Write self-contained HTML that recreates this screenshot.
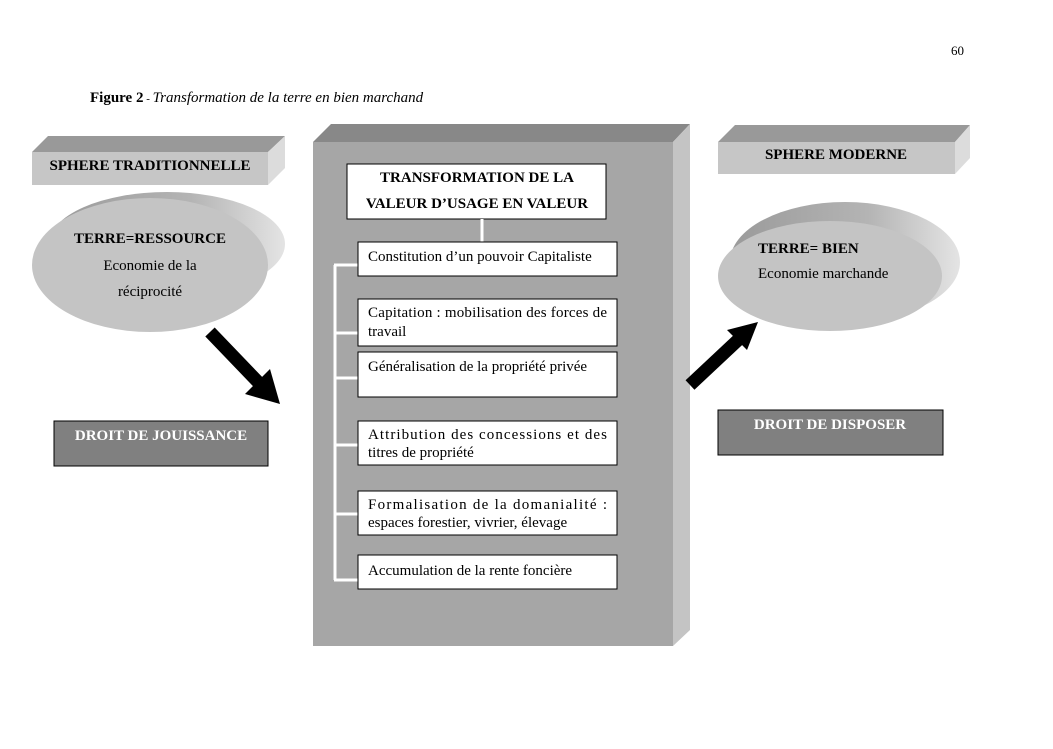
<!DOCTYPE html>
<html><head><meta charset="utf-8"><style>
body{margin:0;background:#fff}
svg text{font-family:"Liberation Serif",serif;fill:#000}
</style></head><body>
<svg width="1053" height="744" viewBox="0 0 1053 744" xmlns="http://www.w3.org/2000/svg">
<defs>
<linearGradient id="g1" x1="0" x2="1" y1="0" y2="0"><stop offset="0" stop-color="#9a9a9a"/><stop offset="0.6" stop-color="#b4b4b4"/><stop offset="1" stop-color="#e4e4e4"/></linearGradient>
</defs>
<text x="951" y="55" font-size="13">60</text>
<text x="90" y="102" font-size="15"><tspan font-weight="bold">Figure 2</tspan><tspan font-size="11"> - </tspan><tspan font-style="italic">Transformation de la terre en bien marchand</tspan></text>

<!-- left bar -->
<polygon points="32,152 48,136 285,136 268,152" fill="#999"/>
<polygon points="268,152 285,136 285,168 268,185" fill="#dcdcdc"/>
<rect x="32" y="152" width="236" height="33" fill="#c6c6c6"/>
<text x="150" y="170" font-size="15" font-weight="bold" text-anchor="middle">SPHERE TRADITIONNELLE</text>

<!-- left ellipse -->
<ellipse cx="167" cy="244" rx="118" ry="52" fill="url(#g1)"/>
<ellipse cx="150" cy="265" rx="118" ry="67" fill="#c4c4c4"/>
<text x="150" y="243" font-size="15" font-weight="bold" text-anchor="middle">TERRE=RESSOURCE</text>
<text x="150" y="270" font-size="15" text-anchor="middle">Economie de la</text>
<text x="150" y="296" font-size="15" text-anchor="middle">réciprocité</text>

<!-- left arrow -->
<line x1="210" y1="332" x2="258" y2="382" stroke="#000" stroke-width="13"/>
<polygon points="245,394 270,369 280,404" fill="#000"/>

<rect x="54" y="421" width="214" height="45" fill="#808080" stroke="#000" stroke-width="1"/>
<text x="161" y="440" font-size="15" font-weight="bold" text-anchor="middle" style="fill:#fff">DROIT DE JOUISSANCE</text>

<!-- center block -->
<polygon points="313,142 331,124 690,124 673,142" fill="#888"/>
<polygon points="673,142 690,124 690,630 673,646" fill="#c4c4c4"/>
<rect x="313" y="142" width="360" height="504" fill="#a6a6a6"/>

<rect x="347" y="164" width="259" height="55" fill="#fff" stroke="#000"/>
<text x="477" y="182" font-size="15" font-weight="bold" text-anchor="middle">TRANSFORMATION DE LA</text>
<text x="477" y="208" font-size="15" font-weight="bold" text-anchor="middle">VALEUR D’USAGE EN VALEUR</text>
<line x1="482" y1="219" x2="482" y2="242" stroke="#fff" stroke-width="3"/>

<g stroke="#fff" stroke-width="3" fill="none">
<line x1="335" y1="265" x2="335" y2="580"/>
<line x1="334" y1="265" x2="358" y2="265"/>
<line x1="334" y1="333" x2="358" y2="333"/>
<line x1="334" y1="378" x2="358" y2="378"/>
<line x1="334" y1="445" x2="358" y2="445"/>
<line x1="334" y1="514" x2="358" y2="514"/>
<line x1="334" y1="580" x2="358" y2="580"/>
</g>
<g fill="#fff" stroke="#000">
<rect x="358" y="242" width="259" height="34"/>
<rect x="358" y="299" width="259" height="47"/>
<rect x="358" y="352" width="259" height="45"/>
<rect x="358" y="421" width="259" height="44"/>
<rect x="358" y="491" width="259" height="44"/>
<rect x="358" y="555" width="259" height="34"/>
</g>
<g font-size="15">
<text x="368" y="261">Constitution d’un pouvoir Capitaliste</text>
<text x="368" y="317" textLength="239" lengthAdjust="spacing">Capitation : mobilisation des forces de</text>
<text x="368" y="336">travail</text>
<text x="368" y="371">Généralisation de la propriété privée</text>
<text x="368" y="439" textLength="239" lengthAdjust="spacing">Attribution  des concessions et des</text>
<text x="368" y="457">titres de propriété</text>
<text x="368" y="509" textLength="239" lengthAdjust="spacing">Formalisation de la domanialité :</text>
<text x="368" y="527">espaces forestier, vivrier, élevage</text>
<text x="368" y="575">Accumulation de la rente foncière</text>
</g>

<!-- right bar -->
<polygon points="718,142 735,125 970,125 955,142" fill="#999"/>
<polygon points="955,142 970,125 970,158 955,174" fill="#dcdcdc"/>
<rect x="718" y="142" width="237" height="32" fill="#c6c6c6"/>
<text x="836" y="159" font-size="15" font-weight="bold" text-anchor="middle">SPHERE MODERNE</text>

<!-- right ellipse -->
<ellipse cx="845" cy="262" rx="115" ry="60" fill="url(#g1)"/>
<ellipse cx="830" cy="276" rx="112" ry="55" fill="#c4c4c4"/>
<text x="758" y="253" font-size="15" font-weight="bold">TERRE= BIEN</text>
<text x="758" y="278" font-size="15">Economie  marchande</text>

<!-- right arrow -->
<line x1="690" y1="385" x2="738" y2="340" stroke="#000" stroke-width="13"/>
<polygon points="727,330 747,350 758,322" fill="#000"/>

<rect x="718" y="410" width="225" height="45" fill="#808080" stroke="#000"/>
<text x="830" y="429" font-size="15" font-weight="bold" text-anchor="middle" style="fill:#fff">DROIT DE DISPOSER</text>
</svg>
</body></html>
